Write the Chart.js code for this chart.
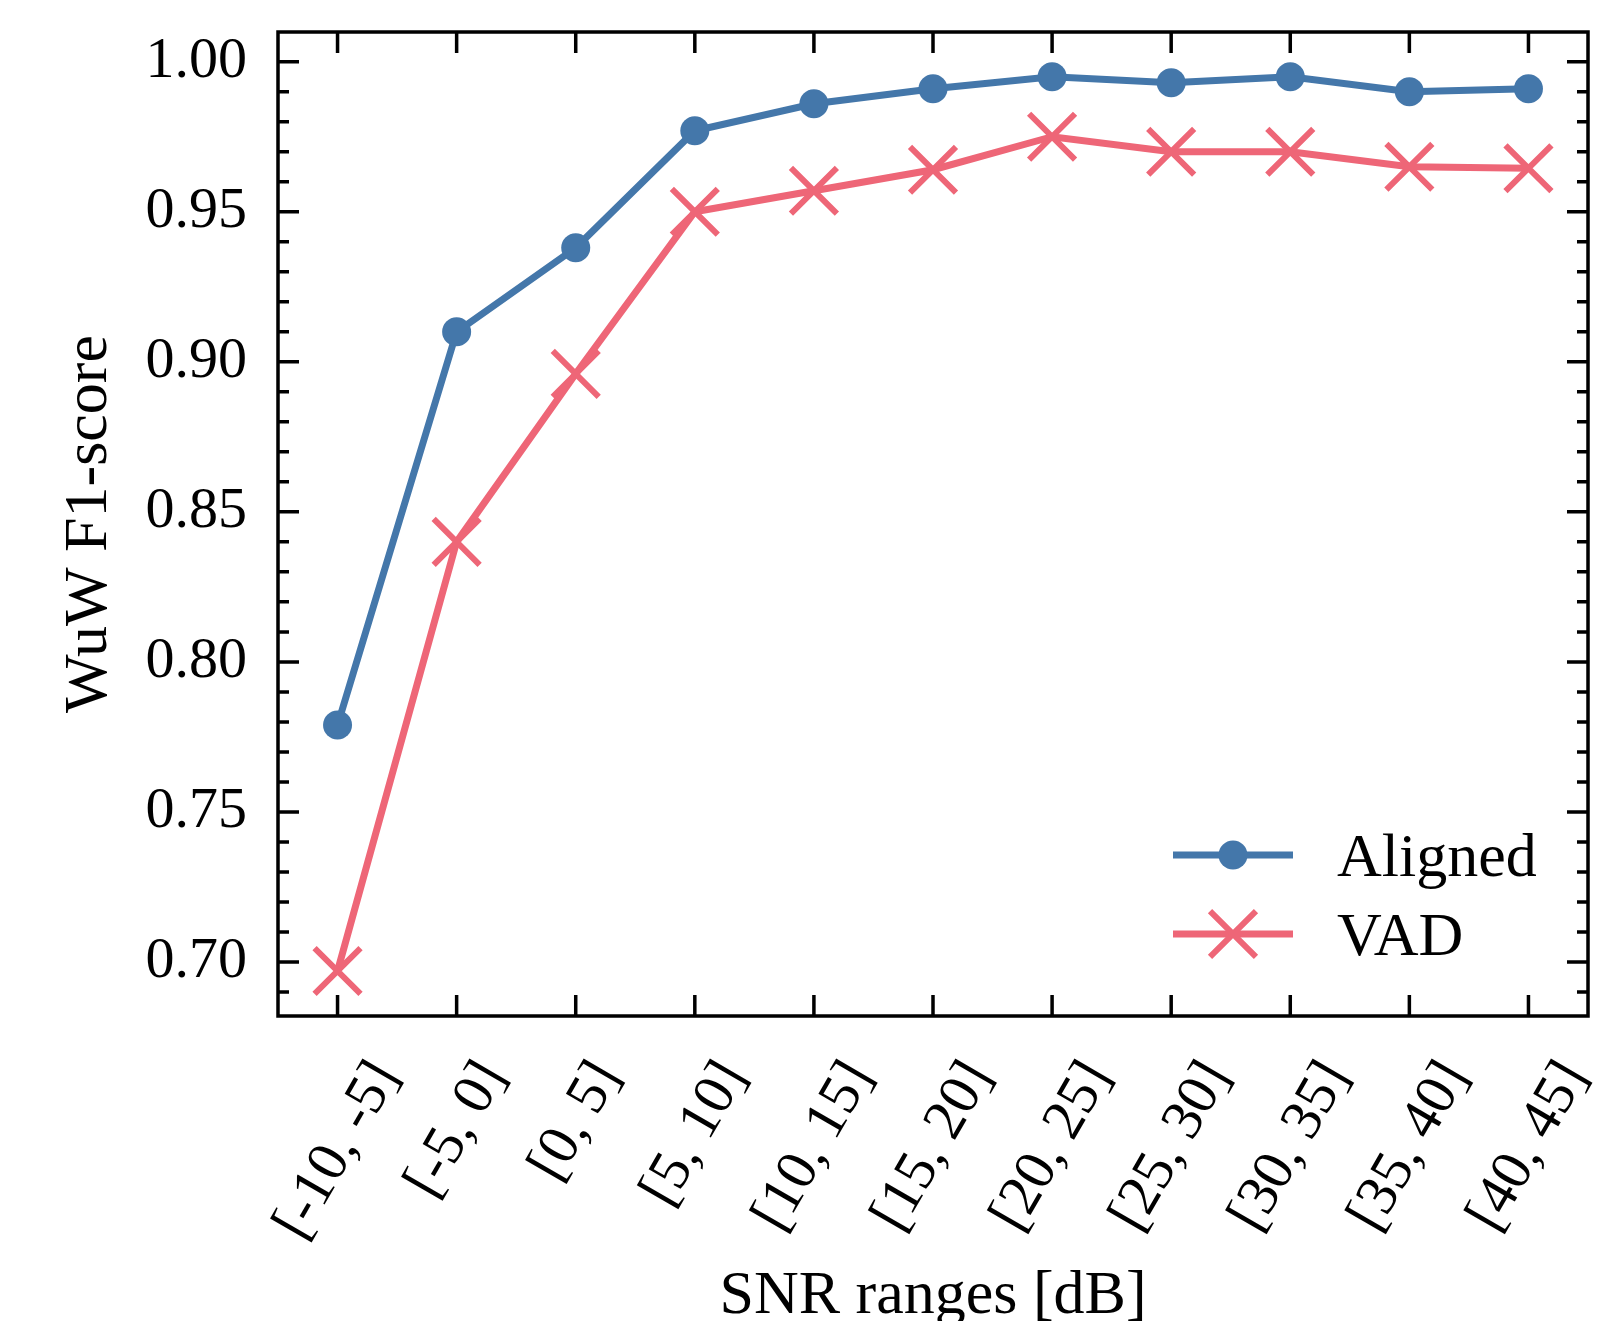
<!DOCTYPE html>
<html lang="en">
<head>
<meta charset="UTF-8">
<title>WuW F1-score vs SNR</title>
<script src="https://cdn.jsdelivr.net/npm/chart.js"></script>
<style>
  html, body { margin: 0; padding: 0; background: #fff; }
  canvas { display: block; }
</style>
</head>
<body>
<canvas id="f1Chart" width="1609" height="1321"></canvas>
<script>
// data
const snrRanges = ['[-10, -5]', '[-5, 0]', '[0, 5]', '[5, 10]', '[10, 15]', '[15, 20]',
                   '[20, 25]', '[25, 30]', '[30, 35]', '[35, 40]', '[40, 45]'];
const alignedF1 = [0.779, 0.910, 0.938, 0.977, 0.986, 0.991, 0.995, 0.993, 0.995, 0.990, 0.991];
const vadF1 = [0.697, 0.840, 0.896, 0.950, 0.957, 0.964, 0.975, 0.970, 0.970, 0.965, 0.9645];
const yTicks = [0.70, 0.75, 0.80, 0.85, 0.90, 0.95, 1.00];

const BLUE = '#4477AA';
const RED = '#EE6677';
const FAMILY = "'Liberation Serif', 'DejaVu Serif', serif";

// matplotlib-like box with inward ticks
const framePlugin = {
    id: 'frame',
    afterDatasetsDraw(chart) {
        const {ctx, chartArea: a, scales: {x, y}} = chart;
        ctx.save();
        ctx.strokeStyle = '#000';
        ctx.lineWidth = 3.5;
        ctx.lineCap = 'butt';
        ctx.beginPath();
        snrRanges.forEach((lab, i) => {
            const px = x.getPixelForTick(i);
            ctx.moveTo(px, a.bottom); ctx.lineTo(px, a.bottom - 21);
            ctx.moveTo(px, a.top); ctx.lineTo(px, a.top + 21);
        });
        for (let k = 69; k <= 100; k++) {
            const py = y.getPixelForValue(k / 100);
            const len = k % 5 === 0 ? 21 : 11;
            ctx.moveTo(a.left, py); ctx.lineTo(a.left + len, py);
            ctx.moveTo(a.right, py); ctx.lineTo(a.right - len, py);
        }
        ctx.stroke();
        ctx.strokeRect(a.left, a.top, a.right - a.left, a.bottom - a.top);
        ctx.restore();
    },
    afterDraw(chart) {
        const {ctx, chartArea: a, scales: {x}} = chart;
        // rotated category labels, centred under each tick
        ctx.save();
        ctx.fillStyle = '#000';
        ctx.font = '58px ' + FAMILY;
        const th = Math.PI / 3;
        snrRanges.forEach((lab, i) => {
            const px = x.getPixelForTick(i);
            const m = ctx.measureText(lab);
            const asc = m.actualBoundingBoxAscent, desc = m.actualBoundingBoxDescent;
            const bh = m.width * Math.sin(th) + (asc + desc) * Math.cos(th);
            ctx.save();
            ctx.translate(px, a.bottom + 39 + bh / 2);
            ctx.rotate(-th);
            ctx.textAlign = 'center';
            ctx.textBaseline = 'alphabetic';
            ctx.fillText(lab, 0, (asc - desc) / 2);
            ctx.restore();
        });

        // legend, lower right
        ctx.font = '62px ' + FAMILY;
        ctx.textAlign = 'left';
        ctx.textBaseline = 'alphabetic';
        chart.data.datasets.forEach((ds, i) => {
            const ly = a.bottom - 161 + i * 79;
            const x0 = a.right - 415, x1 = a.right - 295, xm = (x0 + x1) / 2;
            ctx.strokeStyle = ds.borderColor;
            ctx.lineWidth = ds.borderWidth;
            ctx.beginPath(); ctx.moveTo(x0, ly); ctx.lineTo(x1, ly); ctx.stroke();
            if (ds.pointStyle === 'circle') {
                ctx.fillStyle = ds.pointBackgroundColor;
                ctx.beginPath(); ctx.arc(xm, ly, ds.pointRadius, 0, Math.PI * 2); ctx.fill();
            } else {
                const d = ds.pointRadius * Math.SQRT1_2;
                ctx.lineWidth = ds.pointBorderWidth;
                ctx.beginPath();
                ctx.moveTo(xm - d, ly - d); ctx.lineTo(xm + d, ly + d);
                ctx.moveTo(xm + d, ly - d); ctx.lineTo(xm - d, ly + d);
                ctx.stroke();
            }
            ctx.fillStyle = '#000';
            ctx.fillText(ds.label, a.right - 251, ly + 21);
        });
        ctx.restore();
    }
};

new Chart(document.getElementById('f1Chart'), {
    type: 'line',
    data: {
        labels: snrRanges,
        datasets: [{
            label: 'Aligned',
            data: alignedF1,
            borderColor: BLUE,
            borderWidth: 7,
            pointStyle: 'circle',
            pointRadius: 14.5,
            pointBorderWidth: 0,
            pointBackgroundColor: BLUE,
            pointBorderColor: BLUE,
            tension: 0,
            clip: false
        }, {
            label: 'VAD',
            data: vadF1,
            borderColor: RED,
            borderWidth: 7,
            pointStyle: 'crossRot',
            pointRadius: 32.5,
            pointBorderWidth: 6,
            pointBackgroundColor: RED,
            pointBorderColor: RED,
            tension: 0,
            clip: false
        }]
    },
    options: {
        responsive: false,
        devicePixelRatio: 1,
        animation: false,
        layout: { autoPadding: false, padding: { top: 32, right: 21, left: 0, bottom: 0 } },
        plugins: { legend: { display: false }, tooltip: { enabled: false } },
        scales: {
            x: {
                type: 'category',
                offset: true,
                grid: { display: false, drawTicks: false },
                border: { display: false },
                ticks: { display: false },
                title: {
                    display: true,
                    text: 'SNR ranges [dB]',
                    color: '#000',
                    font: { family: FAMILY, size: 62 },
                    padding: { top: 0, bottom: -13 }
                },
                afterFit: s => {
                    s.height = 305;
                    s.paddingLeft = 0; s.paddingRight = 0;
                }
            },
            y: {
                min: 0.682,
                max: 1.0099,
                grid: { display: false, drawTicks: false },
                border: { display: false },
                afterBuildTicks: s => { s.ticks = yTicks.map(v => ({ value: v })); },
                ticks: {
                    color: '#000',
                    padding: 31,
                    font: { family: FAMILY, size: 58 },
                    callback: v => v.toFixed(2)
                },
                title: {
                    display: true,
                    text: 'WuW F1-score',
                    color: '#000',
                    font: { family: FAMILY, size: 62 },
                    padding: { top: 53, bottom: 0 }
                },
                afterFit: s => {
                    s.width = 278;
                    s.paddingTop = 0; s.paddingBottom = 0;
                }
            }
        }
    },
    plugins: [framePlugin]
});
</script>
</body>
</html>
